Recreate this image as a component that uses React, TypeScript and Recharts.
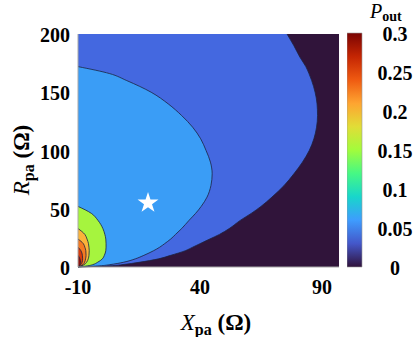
import React from 'react';
import { ComposedChart, Area, Scatter, XAxis, YAxis, CartesianGrid, BarChart, Bar, Symbols } from 'recharts';

// R_pa sample rows (ohm) shared by every contour boundary
const rPa = [0, 1, 2, 4, 7, 10, 14, 17, 20, 24, 28, 33, 40, 46, 52, 60, 70, 80, 90, 100, 110, 120, 130, 140, 150, 160, 166, 172, 180, 190, 200];

// right edge X_pa of each filled contour at the rows above (left edge is X = -10)
const xBlue = [-10, 3, 8, 15, 23, 28, 34, 37, 40, 44, 48, 52, 56.5, 61, 65, 69.5, 74.5, 78.5, 82, 84.8, 86.7, 87.8, 88.2, 88, 87.2, 85.8, 84.7, 83.4, 81, 78.5, 75.7];
const xLight = [-10, -1, 3, 8.5, 13.5, 17, 21, 23.5, 25.5, 28, 30, 32.5, 35.5, 38.2, 40.5, 42.9, 44.5, 45, 44.3, 42.5, 40.3, 37, 32.5, 27, 20, 10, 3, -10];
const xGreen = [-10, -6, -4, -2, 0, 0.8, 1.4, 1.5, 1.5, 1.4, 1, 0.2, -1.8, -4.5, -10];
const xYellow = [-10, -8.5, -7.5, -6.5, -5.8, -5.5, -5.4, -5.5, -5.7, -6.3, -7.2, -10];
const xOrange = [-10, -8.8, -8, -7.3, -6.9, -6.7, -6.8, -7.2, -7.8, -10];
const xRed = [-10, -9.3, -8.8, -8.3, -8.1, -8.2, -8.8, -10];
const xDarkRed = [-10, -9.5, -9.2, -9, -9.2, -10];

const xTicks = [-10, 40, 90];
const rTicks = [0, 50, 100, 150, 200];
const pTicks = [0, 0.05, 0.1, 0.15, 0.2, 0.25, 0.3];
const starPoint = [{ x: 18.7, r: 55 }];
const colorbar = [{ name: 'Pout', v: 0.3 }];

const turbo = ['#30123b', '#4457c9', '#3e9cfe', '#18d6cb', '#46f884', '#a2fc3c', '#e1dd37', '#fea431', '#ef5a11', '#c42503', '#7a0403'];

const levels = [
  { key: 'blue', values: xBlue, color: '#4468e0' },
  { key: 'light', values: xLight, color: '#3a9df6' },
  { key: 'green', values: xGreen, color: '#a6f43e' },
  { key: 'yellow', values: xYellow, color: '#fab33a' },
  { key: 'orange', values: xOrange, color: '#f47a22' },
  { key: 'red', values: xRed, color: '#d63a0c' },
  { key: 'darkred', values: xDarkRed, color: '#9a1006' },
];

const rows = rPa.map((r, i) => {
  const row: any = { r };
  levels.forEach((l) => {
    row[l.key] = l.values[i] ?? null;
  });
  return row;
});

const serif = 'Liberation Serif';

const XTick = ({ x, y, payload }: any) => (
  <text x={x} y={y} dy={19} textAnchor="middle" fontFamily={serif} fontSize={20} fontWeight="bold" fill="#000">
    {payload.value}
  </text>
);

const YTick = ({ x, y, payload }: any) => (
  <text x={x} y={y} dy={8} textAnchor="end" fontFamily={serif} fontSize={20} fontWeight="bold" fill="#000">
    {payload.value}
  </text>
);

const ColorbarTick = ({ y, payload }: any) => (
  <text x={48} y={y} dy={8} textAnchor="middle" fontFamily={serif} fontSize={20} fontWeight="bold" fill="#000">
    {String(payload.value)}
  </text>
);

export default function App() {
  return (
    <div style={{ position: 'absolute', left: 0, top: 0, width: 416, height: 337, background: '#fff', fontFamily: serif }}>
      <ComposedChart
        width={416}
        height={337}
        data={rows}
        layout="vertical"
        margin={{ top: 34, right: 77, bottom: 0, left: 0 }}
      >
        <CartesianGrid fill="#30143a" horizontal={false} vertical={false} />
        <XAxis
          type="number"
          dataKey="x"
          domain={[-10, 97]}
          ticks={xTicks}
          allowDataOverflow
          height={70}
          tickLine={false}
          axisLine={{ stroke: '#a8a8a8' }}
          tick={<XTick />}
        />
        <XAxis xAxisId="top" orientation="top" type="number" domain={[-10, 97]} height={0} tick={false} tickLine={false} axisLine={{ stroke: '#a8a8a8' }} />
        <YAxis
          type="number"
          dataKey="r"
          domain={[0, 200]}
          ticks={rTicks}
          reversed
          width={78}
          tickLine={false}
          axisLine={{ stroke: '#a8a8a8' }}
          tick={<YTick />}
        />
        <YAxis yAxisId="right" orientation="right" type="number" domain={[0, 200]} width={0} tick={false} tickLine={false} axisLine={{ stroke: '#a8a8a8' }} />
        {levels.map((l) => (
          <Area
            key={l.key}
            dataKey={l.key}
            type="monotone"
            baseValue={-10}
            fill={l.color}
            fillOpacity={1}
            stroke="#1c2240"
            strokeWidth={0.8}
            isAnimationActive={false}
          />
        ))}
        <Scatter
          data={starPoint}
          isAnimationActive={false}
          shape={(p: any) => <Symbols type="star" size={136} cx={p.cx} cy={p.cy} fill="#ffffff" />}
        />
      </ComposedChart>

      <div style={{ position: 'absolute', left: 347, top: 0 }}>
        <BarChart width={69} height={337} data={colorbar} margin={{ top: 33, right: 0, bottom: 70, left: 0 }} barCategoryGap={0}>
          <defs>
            <linearGradient id="turboGrad" x1="0" y1="1" x2="0" y2="0">
              {turbo.map((c, i) => (
                <stop key={i} offset={i / (turbo.length - 1)} stopColor={c} />
              ))}
            </linearGradient>
          </defs>
          <XAxis dataKey="name" hide />
          <YAxis orientation="right" domain={[0, 0.3]} ticks={pTicks} width={54} tickLine={false} axisLine={false} tick={<ColorbarTick />} />
          <Bar dataKey="v" fill="url(#turboGrad)" stroke="#9a9a9a" strokeWidth={0.6} isAnimationActive={false} />
        </BarChart>
      </div>

      <svg width={416} height={337} style={{ position: 'absolute', left: 0, top: 0, pointerEvents: 'none' }}>
        <text transform="translate(29,160) rotate(-90)" textAnchor="middle" fontFamily={serif} fontSize={23} fill="#000">
          <tspan fontStyle="italic">R</tspan>
          <tspan fontWeight="bold" fontSize={16} dy={5}>pa</tspan>
          <tspan fontWeight="bold" dy={-5}> (Ω)</tspan>
        </text>
        <text x={216} y={330} textAnchor="middle" fontFamily={serif} fontSize={23} fill="#000">
          <tspan fontStyle="italic">X</tspan>
          <tspan fontWeight="bold" fontSize={16} dy={5}>pa</tspan>
          <tspan fontWeight="bold" dy={-5}> (Ω)</tspan>
        </text>
        <text x={370} y={18} fontFamily={serif} fontSize={20} fill="#000">
          <tspan fontStyle="italic">P</tspan>
          <tspan fontWeight="bold" fontSize={14} dy={3}>out</tspan>
        </text>
      </svg>
    </div>
  );
}
